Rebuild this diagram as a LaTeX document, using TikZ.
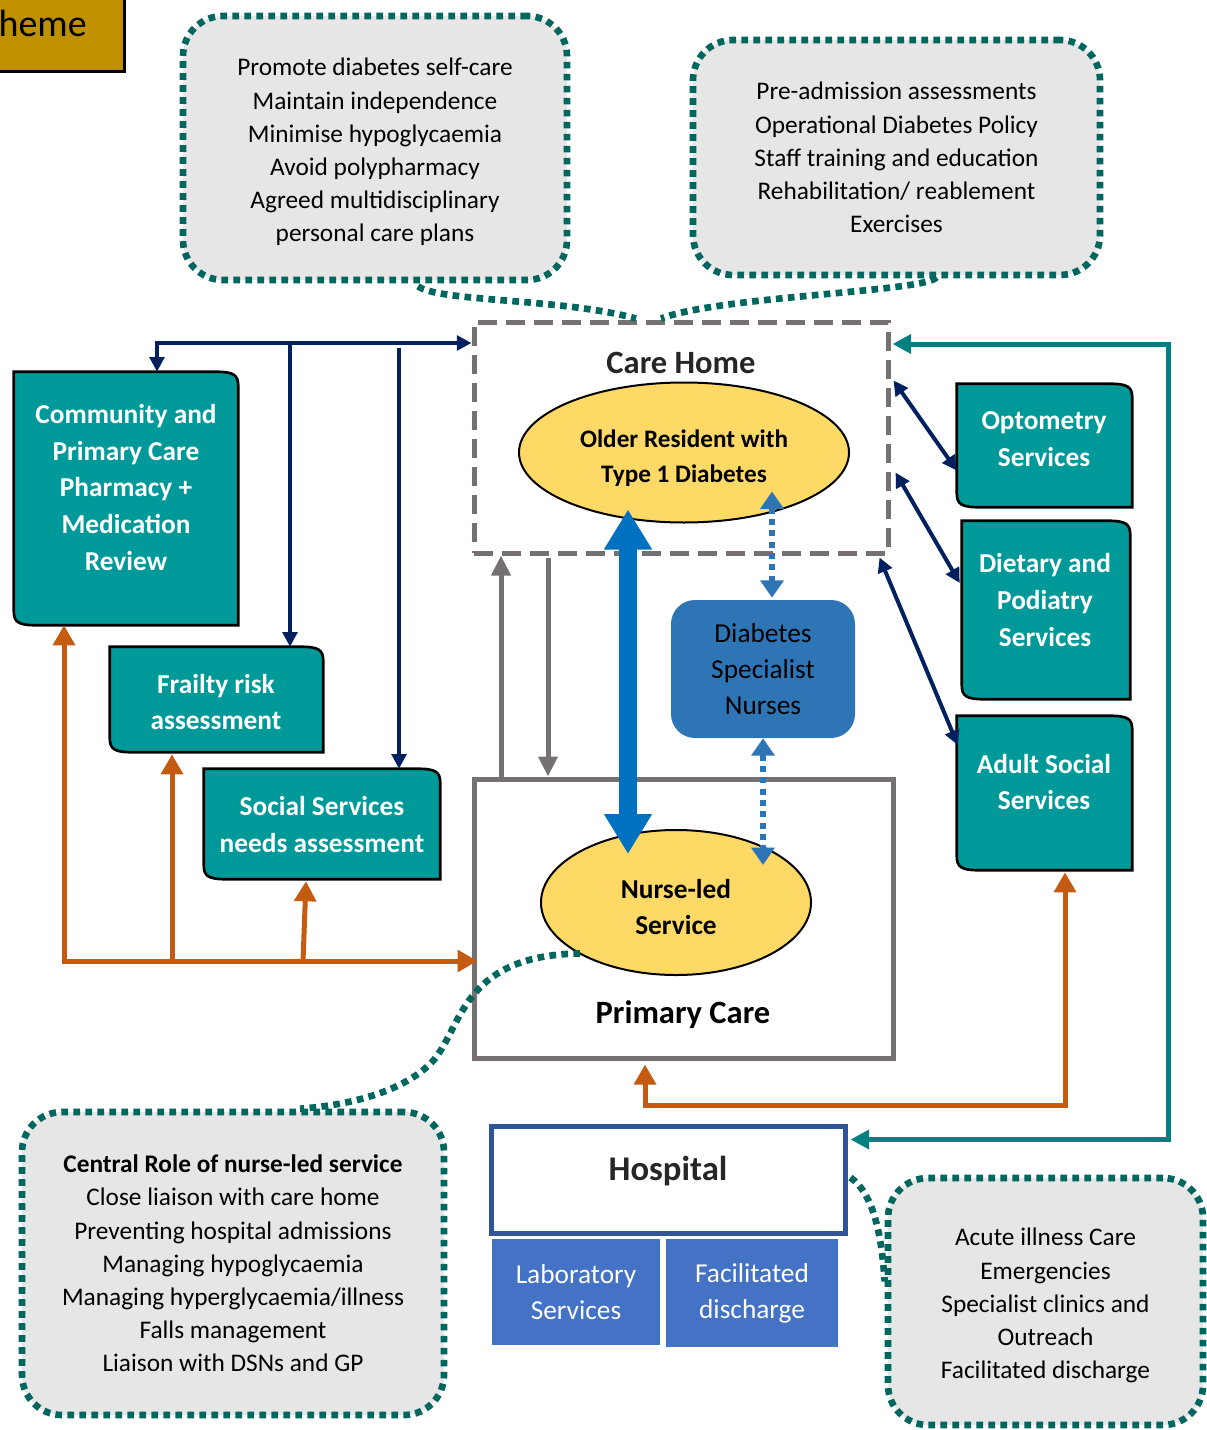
\documentclass[tikz,border=0pt]{standalone}
\usepackage{fontspec}
\setmainfont{Carlito}
\usetikzlibrary{shapes.geometric,arrows.meta,calc}
\definecolor{cgray}{HTML}{E7E6E6}
\definecolor{dteal}{HTML}{00665E}
\definecolor{tealbox}{HTML}{009999}
\definecolor{navyc}{HTML}{002060}
\definecolor{tealc}{HTML}{008080}
\definecolor{orangec}{HTML}{C55A11}
\definecolor{grayc}{HTML}{767171}
\definecolor{bigbluec}{HTML}{0070C0}
\definecolor{dsnblue}{HTML}{2E75B6}
\definecolor{hospblue}{HTML}{2F5597}
\definecolor{labblue}{HTML}{4472C4}
\definecolor{yel}{HTML}{FFD966}
\definecolor{gold}{HTML}{BF9000}
\definecolor{darktext}{HTML}{262626}
\newcommand{\fs}[2]{\fontsize{#1}{#2}\selectfont}
\newcommand{\docshape}[1]{%
  \draw[docline] (#1.north west) -- ($(#1.north east)+(-24,0)$)
    .. controls ($(#1.north east)+(-4,0)$) and ($(#1.north east)+(0,3)$) .. ($(#1.north east)+(0,15)$)
    -- (#1.south east) -- ($(#1.south west)+(24,0)$)
    .. controls ($(#1.south west)+(4,0)$) and ($(#1.south west)+(0,-3)$) .. ($(#1.south west)+(0,-15)$)
    -- cycle;}
\begin{document}
\begin{tikzpicture}[x=0.75pt,y=-0.75pt,
  callout/.style={rectangle, rounded corners=30pt, fill=cgray, draw=dteal, line width=5pt,
    dash pattern=on 5pt off 4pt, align=center, font=\fs{19}{24.9}, inner sep=0pt},
  tail/.style={draw=dteal, line width=5pt, dash pattern=on 5pt off 4pt},
  docbox/.style={rectangle, inner sep=0pt},
  doctext/.style={text=white, font=\bfseries\fs{20.5}{27.5}, align=center, inner sep=0pt},
  docline/.style={fill=tealbox, draw=black, line width=2pt},
  yellipse/.style={ellipse, fill=yel, draw=black, line width=1.5pt, inner sep=0pt, align=center},
  navyline/.style={draw=navyc, line width=3pt, >={Triangle[length=11pt,width=11pt]}},
  tealline/.style={draw=tealc, line width=3.75pt, >={Triangle[length=14pt,width=14pt]}},
  orangeline/.style={draw=orangec, line width=3.75pt, >={Triangle[length=15pt,width=16pt]}},
  grayarrow/.style={draw=grayc, line width=3.75pt, >={Triangle[length=15pt,width=14pt]}},
  bigarrow/.style={draw=bigbluec, line width=13pt, >={Triangle[length=30pt,width=34pt]}},
  dotblue/.style={draw=dsnblue, line width=4.5pt, dash pattern=on 4.5pt off 4pt, >={Triangle[length=13pt,width=17pt]}}
]
\useasboundingbox (0,0) rectangle (1206,1430);

% title fragment
\node[draw=black, line width=2pt, fill=gold, minimum width=99.75pt, minimum height=60pt, anchor=north west, inner sep=0pt] (titlebox) at (-10,-10) {};
\node[anchor=base east, font=\fs{28.5}{30}, inner sep=0pt] (titletext) at (87,37) {heme};

% callouts
\node[callout, minimum width=288pt, minimum height=198pt] (goals) at (375,148)
  {\rule{0pt}{19.5pt}Promote diabetes self-care\\Maintain independence\\Minimise hypoglycaemia\\Avoid polypharmacy\\Agreed multidisciplinary\\personal care plans};
\node[callout, minimum width=305.25pt, minimum height=176.25pt] (policy) at (896.5,157.5)
  {Pre-admission assessments\\Operational Diabetes Policy\\Staff training and education\\Rehabilitation/ reablement\\Exercises};

% care home
\node[draw=grayc, line width=3.75pt, dash pattern=on 14pt off 7pt, minimum width=310.5pt, minimum height=173.25pt, inner sep=0pt] (carehome) at (681,437.5) {};
\node[font=\bfseries\fs{24.4}{26}, text=darktext, inner sep=0pt] (carehomelabel) at (681,363) {Care Home};

\draw[tail] ($(goals.south)+(43,3)$) .. controls (440,302) and (560,298) .. ($(carehome.north)+(-45,-1)$);
\draw[tail] ($(policy.south)+(40,-1)$) .. controls (925,292) and (720,296) .. ($(carehome.north)+(-20,-1)$);

\node[yellipse, minimum width=247.5pt, minimum height=105pt, font=\bfseries\fs{18.9}{26.25}] (resident) at (684,452.5) {\rule{0pt}{21pt}Older Resident with\\Type 1 Diabetes};

% primary care
\node[draw=grayc, line width=3.75pt, minimum width=314.25pt, minimum height=209.25pt, inner sep=0pt] (primary) at (683.5,918.5) {};
\node[font=\bfseries\fs{24.4}{26}, inner sep=0pt] (primarylabel) at (683,1015) {Primary Care};
\node[yellipse, minimum width=202.5pt, minimum height=108.75pt, font=\bfseries\fs{20.5}{27}] (nurse) at (676,902.5) {\rule{0pt}{20.5pt}Nurse-led\\Service};

% DSN
\node[rectangle, rounded corners=18pt, fill=dsnblue, minimum width=138pt, minimum height=103.5pt, align=center, font=\fs{20.5}{27}, inner sep=0pt] (dsn) at (763,669) {Diabetes\\Specialist\\Nurses};

% left teal boxes
\node[docbox, minimum width=168pt, minimum height=189.75pt] (comm) at (126,498.5) {};
\docshape{comm}
\node[doctext] (commtext) at (126,487.5) {Community and\\Primary Care\\Pharmacy +\\Medication\\Review};
\node[docbox, minimum width=159.75pt, minimum height=78.75pt] (frailty) at (216.5,699.5) {};
\docshape{frailty}
\node[doctext] (frailtytext) at (216,702) {Frailty risk\\assessment};
\node[docbox, minimum width=177pt, minimum height=82.5pt] (social) at (322,824) {};
\docshape{social}
\node[doctext] (socialtext) at (322,824.5) {Social Services\\needs assessment};

% right teal boxes
\node[docbox, minimum width=131.25pt, minimum height=92.25pt] (opt) at (1044.5,445.5) {};
\docshape{opt}
\node[doctext] (opttext) at (1044,439) {Optometry\\Services};
\node[docbox, minimum width=126pt, minimum height=133.5pt] (diet) at (1046,610) {};
\docshape{diet}
\node[doctext] (diettext) at (1045,600) {Dietary and\\Podiatry\\Services};
\node[docbox, minimum width=131.25pt, minimum height=115.5pt] (adult) at (1044.5,793) {};
\docshape{adult}
\node[doctext] (adulttext) at (1044,782) {Adult Social\\Services};

% hospital
\node[draw=hospblue, line width=3.75pt, fill=white, minimum width=265.5pt, minimum height=80.25pt, inner sep=0pt] (hospital) at (668,1179.5) {};
\node[font=\bfseries\fs{26}{28}, text=darktext, inner sep=0pt] (hosplabel) at (668,1171) {Hospital};
\node[fill=labblue, minimum width=126pt, minimum height=79.5pt, text=white, align=center, font=\fs{20.5}{27}, inner sep=0pt] (lab) at (576,1292) {Laboratory\\Services};
\node[fill=labblue, minimum width=129pt, minimum height=81pt, text=white, align=center, font=\fs{20.5}{27}, inner sep=0pt] (fac) at (752,1293) {Facilitated\\discharge};

% bottom callouts
\node[callout, minimum width=316.5pt, minimum height=227.25pt] (central) at (233,1263.5)
  {\textbf{Central Role of nurse-led service}\\Close liaison with care home\\Preventing hospital admissions\\Managing hypoglycaemia\\Managing hyperglycaemia/illness\\Falls management\\Liaison with DSNs and GP};
\node[callout, minimum width=236.25pt, minimum height=185.25pt] (acute) at (1045.5,1301.5)
  {\rule{0pt}{19.5pt}Acute illness Care\\Emergencies\\Specialist clinics and\\Outreach\\Facilitated discharge};
\draw[tail] ($(nurse.center)+(-96,51)$) .. controls (460,955) and (462,1030) .. (432,1062)
  .. controls (400,1095) and (340,1106) .. ($(central.north)+(67,0)$);
\draw[tail] ($(hospital.east)+(3,-2)$) .. controls (875,1195) and (882,1240) .. ($(acute.west)+(0,-20)$);

% navy connectors
\coordinate (n1) at (157,343);
\draw[navyline,<->] (comm.north -| n1) |- (carehome.west |- n1);
\coordinate (n2) at (290,343);
\draw[navyline,->] (n2) -- (n2 |- frailty.north);
\coordinate (n3) at (399,348);
\draw[navyline,->] (n3) -- (n3 |- social.north);
\draw[navyline,<->] ($(carehome.north east)+(3,61)$) -- ($(opt.west)+(0,25)$);
\draw[navyline,<->] ($(carehome.north east)+(5,153)$) -- ($(diet.west)+(-2,-27)$);
\draw[navyline,<->] ($(carehome.south east)+(-11,2)$) -- ($(adult.west)+(1,-48)$);

% teal connector
\coordinate (t1) at (1168,344);
\draw[tealline,<->] ($(hospital.east)+(3,-40)$) -| (t1) -- ($(carehome.east |- t1)+(2,0)$);

% orange connectors
\coordinate (o1) at (64,961);
\draw[orangeline,<->] (comm.south -| o1) -- (o1) -- ($(primary.west |- o1)+(6,0)$);
\coordinate (o2) at (172,961);
\draw[orangeline,->] (o2) -- ($(o2 |- frailty.south)+(0,2)$);
\coordinate (o3) at (303,961);
\draw[orangeline,->] (o3) -- ($(o3 |- social.south)+(3,2)$);
\coordinate (o4) at (645,1105);
\coordinate (o5) at (1065,1105);
\draw[orangeline,<->] ($(primary.south -| o4)+(0,4)$) -- (o4) -- (o5) -- ($(o5 |- adult.south)+(0,2)$);

% gray arrows
\coordinate (g1) at (501,0);
\draw[grayarrow,->] (primary.north -| g1) -- (carehome.south -| g1);
\coordinate (g2) at (548,0);
\draw[grayarrow,->] ($(carehome.south -| g2)+(0,2)$) -- (primary.north -| g2);

% big blue double arrow
\coordinate (b1) at (628,0);
\draw[bigarrow,<->] ($(resident.south -| b1)+(0,-14)$) -- ($(nurse.north -| b1)+(0,25)$);

% dotted blue arrows
\coordinate (d1) at (772,0);
\draw[dotblue,<->] ($(resident.south -| d1)+(0,-32)$) -- ($(dsn.north -| d1)+(0,-2)$);
\coordinate (d2) at (763,0);
\draw[dotblue,<->] (dsn.south -| d2) -- ($(nurse.north -| d2)+(0,36)$);
\end{tikzpicture}
\end{document}
